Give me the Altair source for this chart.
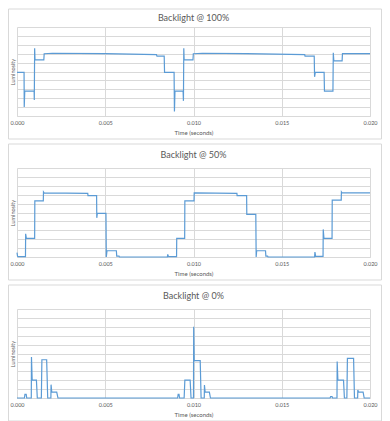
import altair as alt
import pandas as pd

titles = ["Backlight @ 100%", "Backlight @ 50%", "Backlight @ 0%"]
x_ticks = [0.0, 0.005, 0.010, 0.015, 0.020]
y_grid = list(range(11))

# time in milliseconds, luminosity in grid units (0-10)
t100 = [0, 0.40, 0.41, 0.44, 0.97, 0.98, 1.00, 1.02, 1.52, 1.54, 2.0, 5.0, 7.90, 7.93, 8.34,
        8.36, 8.90, 8.92, 8.95, 9.41, 9.43, 9.45, 9.47, 9.97, 9.99, 10.5, 13.0, 16.30, 16.32, 16.84,
        16.86, 16.90, 17.40, 17.42, 17.90, 17.92, 17.95, 18.42, 18.44, 20.0]
l100 = [4.9, 4.9, 1.0, 2.8, 2.8, 1.8, 7.6, 6.3, 6.3, 7.0, 7.05, 7.0, 6.9, 6.72, 6.72,
        4.9, 4.9, 0.5, 2.8, 2.8, 1.7, 7.6, 6.3, 6.3, 7.0, 7.05, 7.0, 6.9, 6.72, 6.72,
        4.4, 4.9, 4.9, 2.8, 2.8, 7.1, 6.2, 6.2, 7.0, 7.0]

t50 = [0, 0.03, 0.06, 0.48, 0.49, 0.53, 1.00, 1.01, 1.49, 1.50, 1.53, 4.01, 4.02, 4.51, 4.52,
       4.55, 5.04, 5.06, 5.10, 5.63, 5.65, 5.78, 5.80, 8.52, 8.54, 8.58, 9.04, 9.05, 9.50, 9.51,
       10.03, 10.04, 10.07, 12.46, 12.47, 13.01, 13.02, 13.53, 13.55, 13.58, 14.08, 14.10, 14.20,
       14.22, 16.86, 16.88, 16.92, 17.34, 17.35, 17.39, 17.85, 17.86, 18.37, 18.38, 18.41, 20.0]
l50 = [0.5, 0.1, 0.05, 0.05, 2.6, 2.1, 2.1, 6.3, 6.3, 7.3, 7.2, 7.15, 6.9, 6.9, 4.4,
       4.9, 4.9, 0.0, 0.7, 0.7, 0.1, 0.1, 0.0, 0.0, 0.3, 0.05, 0.05, 2.1, 2.1, 6.3,
       6.3, 7.2, 7.2, 7.15, 6.9, 6.9, 4.8, 4.8, 0.0, 0.7, 0.7, 0.1, 0.1,
       0.0, 0.0, 0.55, 0.08, 0.08, 3.1, 2.1, 2.1, 6.4, 6.4, 7.3, 7.2, 7.2]

t0 = [0, 0.42, 0.45, 0.52, 0.55, 0.81, 0.82, 0.86, 1.10, 1.15, 1.38, 1.41, 1.68, 1.74, 1.92,
      1.93, 1.97, 2.25, 2.32, 9.10, 9.13, 9.18, 9.21, 9.47, 9.51, 9.81, 9.86, 10.00, 10.01, 10.04,
      10.38, 10.43, 10.61, 10.62, 10.66, 10.90, 10.96, 17.74, 17.77, 17.85, 17.88, 18.13, 18.14,
      18.18, 18.50, 18.55, 18.69, 18.72, 19.07, 19.12, 19.30, 19.31, 19.35, 19.61, 19.67, 20.0]
l0 = [0, 0, 0.4, 0.4, 0, 0, 4.6, 2.0, 2.0, 0, 0, 4.3, 4.3, 0, 0,
      1.5, 0.65, 0.65, 0, 0, 0.4, 0.4, 0, 0, 2.0, 2.0, 0, 0, 8.0, 4.2,
      4.2, 0, 0, 1.45, 0.65, 0.65, 0, 0, 0.15, 0.15, 0, 0, 4.1,
      2.0, 2.0, 0, 0, 4.45, 4.45, 0, 0, 0.9, 0.65, 0.65, 0, 0]

series = [(t100, l100), (t50, l50), (t0, l0)]

FONT = "Lato"
GRAY = "#595959"
GRID = "#d9d9d9"
W, H = 353, 89


def panel(t_ms, lum, title, top_margin, title_y):
    df = pd.DataFrame({"t": [v / 1000 for v in t_ms], "lum": lum, "i": list(range(len(lum)))})
    line = alt.Chart(df).mark_line(color="#5b9bd5", strokeWidth=1.2).encode(
        x=alt.X("t:Q",
                scale=alt.Scale(domain=[0, 0.02], nice=False, zero=False),
                axis=alt.Axis(values=x_ticks, format=".3f", title="Time (seconds)",
                              grid=True, gridColor=GRID, ticks=False, domainColor=GRID,
                              labelFontSize=5.5, labelColor=GRAY, labelFont=FONT, labelPadding=4,
                              labelFlush=False,
                              titleFontSize=6, titleColor=GRAY, titleFont=FONT,
                              titleFontWeight="normal", titlePadding=4)),
        y=alt.Y("lum:Q",
                scale=alt.Scale(domain=[0, 10], nice=False),
                axis=alt.Axis(values=y_grid, labels=False, ticks=False, domain=False,
                              grid=True, gridColor=GRID, title="Luminosity",
                              titleFontSize=5.5, titleColor=GRAY, titleFont=FONT,
                              titleFontWeight="normal", titlePadding=2)),
        order="i:Q",
    )
    one = pd.DataFrame({"title": [title]})
    border = alt.Chart(one).mark_rect(
        filled=False, stroke=GRID, strokeWidth=1
    ).encode(
        x=alt.value(-8.5), x2=alt.value(W + 11.5),
        y=alt.value(-top_margin), y2=alt.value(H + 23),
    )
    head = alt.Chart(one).mark_text(
        font=FONT, fontSize=9, color=GRAY, align="center", baseline="middle"
    ).encode(
        text="title:N", x=alt.value(W / 2), y=alt.value(title_y),
    )
    return alt.layer(border, line, head).properties(width=W, height=H)


charts = [panel(t, l, ttl, m, ty)
          for (t, l), ttl, m, ty in zip(series, titles, [18, 24, 24], [-9.5, -13, -13])]

chart = alt.vconcat(*charts, spacing=3).properties(padding=0).configure_view(strokeWidth=0)

chart.save("out.html", embed_options={"renderer": "svg", "actions": False})
